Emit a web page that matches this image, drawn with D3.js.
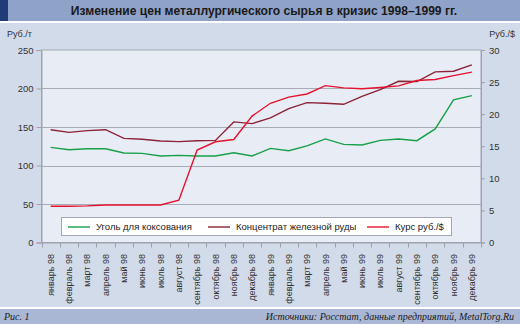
<!DOCTYPE html>
<html><head><meta charset="utf-8">
<script src="https://cdn.jsdelivr.net/npm/d3@7"></script>
<style>
html,body{margin:0;padding:0;background:#d2dbea;}
svg{display:block;}
</style></head>
<body>
<svg id="c" width="520" height="324"></svg>
<script>
const months = ["январь 98","февраль 98","март 98","апрель 98","май 98","июнь 98","июль 98","август 98","сентябрь 98","октябрь 98","ноябрь 98","декабрь 98",
"январь 99","февраль 99","март 99","апрель 99","май 99","июнь 99","июль 99","август 99","сентябрь 99","октябрь 99","ноябрь 99","декабрь 99"];
const coal = [123.5,120.5,121.8,121.8,116.3,115.7,112.4,113.1,112.4,112.4,116.6,112.4,122.2,119.2,125.4,134.5,127.4,126.7,132.6,134.5,132.2,147.5,185.2,190.8];
const ore  = [146.5,143,145.3,146.5,135.2,134,131.9,131,132.2,132.6,156.6,154.4,161.8,173.9,181.7,180.8,179.5,189.9,198.6,209.4,209,221.6,222.4,230.7];
const rate = [5.65,5.65,5.7,5.85,5.85,5.85,5.85,6.6,14.4,15.7,16.05,19.7,21.7,22.65,23.15,24.45,24.1,23.95,24.15,24.4,25.25,25.4,26.0,26.55];
const leftTicks = [0,50,100,150,200,250];
const rightTicks = [0,5,10,15,20,25,30];
const gridTicks = [50,100,150,200];
const seriesNames = ["Уголь для коксования","Концентрат железной руды","Курс руб./$"];
const colors = ["#17a04a","#8c2336","#e5122f"];

const svg = d3.select("#c");
const W = 520, H = 324;
const L = 41.5, R = 481, T = 50, B = 242.5;

// backgrounds
svg.append("rect").attr("x",0).attr("y",0).attr("width",W).attr("height",H).attr("fill","#d2dbea");
svg.append("rect").attr("x",0).attr("y",0).attr("width",W).attr("height",21).attr("fill","#8fa2c8");
svg.append("rect").attr("x",0).attr("y",0).attr("width",8).attr("height",21).attr("fill","#1f3c78");
svg.append("rect").attr("x",0).attr("y",21).attr("width",W).attr("height",2).attr("fill","#ffffff");
svg.append("rect").attr("x",0).attr("y",307).attr("width",W).attr("height",2).attr("fill","#ffffff");
svg.append("rect").attr("x",0).attr("y",309).attr("width",W).attr("height",15).attr("fill","#a9b6d4");

svg.append("text").attr("x",264).attr("y",15).attr("text-anchor","middle")
  .attr("font-family","Liberation Sans, Arial, sans-serif").attr("font-weight","bold").attr("font-size",12.1)
  .attr("fill","#1a1a1a").text("Изменение цен металлургического сырья в кризис 1998–1999 гг.");

svg.append("text").attr("x",7).attr("y",37).attr("font-family","Liberation Sans, Arial, sans-serif")
  .attr("font-size",9).attr("fill","#333").text("Руб./т");
svg.append("text").attr("x",515).attr("y",37).attr("text-anchor","end").attr("font-family","Liberation Sans, Arial, sans-serif")
  .attr("font-size",9).attr("fill","#333").text("Руб./$");

svg.append("text").attr("x",4).attr("y",320).attr("font-family","Liberation Serif, Times New Roman, serif")
  .attr("font-style","italic").attr("font-size",10).attr("fill","#1a1a1a").text("Рис. 1");
svg.append("text").attr("x",514).attr("y",320).attr("text-anchor","end").attr("font-family","Liberation Serif, Times New Roman, serif")
  .attr("font-style","italic").attr("font-size",10).attr("fill","#1a1a1a").text("Источники: Росстат, данные предприятий, MetalTorg.Ru");

// scales
const x = d3.scaleBand().domain(months).range([L,R]);
const yL = d3.scaleLinear().domain([0,250]).range([B,T]);
const yR = d3.scaleLinear().domain([0,30]).range([B,T]);
const cx = m => x(m) + x.bandwidth()/2;

// plot area
svg.append("rect").attr("x",L).attr("y",T).attr("width",R-L).attr("height",B-T).attr("fill","#e8ecf5")
  .attr("stroke","#a4a7b2").attr("stroke-width",1);

// grid
svg.append("g").selectAll("line").data(gridTicks).join("line")
  .attr("x1",L).attr("x2",R).attr("y1",d=>Math.round(yL(d))+0.5).attr("y2",d=>Math.round(yL(d))+0.5)
  .attr("stroke","#a8aab4").attr("stroke-width",1);

// left axis
const gl = svg.append("g").attr("transform",`translate(${L},0)`)
  .call(d3.axisLeft(yL).tickValues(leftTicks).tickSize(5).tickPadding(3));
// right axis
const gr = svg.append("g").attr("transform",`translate(${R},0)`)
  .call(d3.axisRight(yR).tickValues(rightTicks).tickSize(4).tickPadding(4));
[gl,gr].forEach(g=>{
  g.select(".domain").attr("stroke","#9ea1ad");
  g.selectAll(".tick line").attr("stroke","#9ea1ad");
  g.selectAll(".tick text").attr("font-family","Liberation Sans, Arial, sans-serif").attr("font-size",9.5).attr("fill","#333");
});

// bottom axis
svg.append("line").attr("x1",L).attr("x2",R).attr("y1",B+0.5).attr("y2",B+0.5).attr("stroke","#9ea1ad");
svg.append("g").selectAll("line").data(months.concat(["__end"])).join("line")
  .attr("x1",d=>Math.round(d==="__end"?R:x(d))+0.5).attr("x2",d=>Math.round(d==="__end"?R:x(d))+0.5)
  .attr("y1",B).attr("y2",B+5).attr("stroke","#9ea1ad");
svg.append("g").selectAll("text").data(months).join("text")
  .attr("transform",d=>`translate(${cx(d)},254) rotate(-90)`)
  .attr("text-anchor","end").attr("dy","0.35em")
  .attr("font-family","Liberation Sans, Arial, sans-serif").attr("font-size",9).attr("fill","#333")
  .text(d=>d);

// lines
const lineL = d3.line().x((d,i)=>cx(months[i])).y(d=>yL(d));
const lineR = d3.line().x((d,i)=>cx(months[i])).y(d=>yR(d));
svg.append("path").attr("d",lineL(coal)).attr("fill","none").attr("stroke",colors[0]).attr("stroke-width",1.4);
svg.append("path").attr("d",lineL(ore)).attr("fill","none").attr("stroke",colors[1]).attr("stroke-width",1.4);
svg.append("path").attr("d",lineR(rate)).attr("fill","none").attr("stroke",colors[2]).attr("stroke-width",1.4);

// legend
const lg = svg.append("g");
lg.append("rect").attr("x",61.5).attr("y",217.5).attr("width",390).attr("height",18).attr("fill","#ffffff")
  .attr("stroke","#a4a7b2");
const legX = [68,208,367];
seriesNames.forEach((n,i)=>{
  lg.append("line").attr("x1",legX[i]).attr("x2",legX[i]+22).attr("y1",227).attr("y2",227)
    .attr("stroke",colors[i]).attr("stroke-width",1.4);
  lg.append("text").attr("x",legX[i]+28).attr("y",227).attr("dy","0.35em")
    .attr("font-family","Liberation Sans, Arial, sans-serif").attr("font-size",9.5).attr("fill","#222").text(n);
});
</script>
</body></html>
